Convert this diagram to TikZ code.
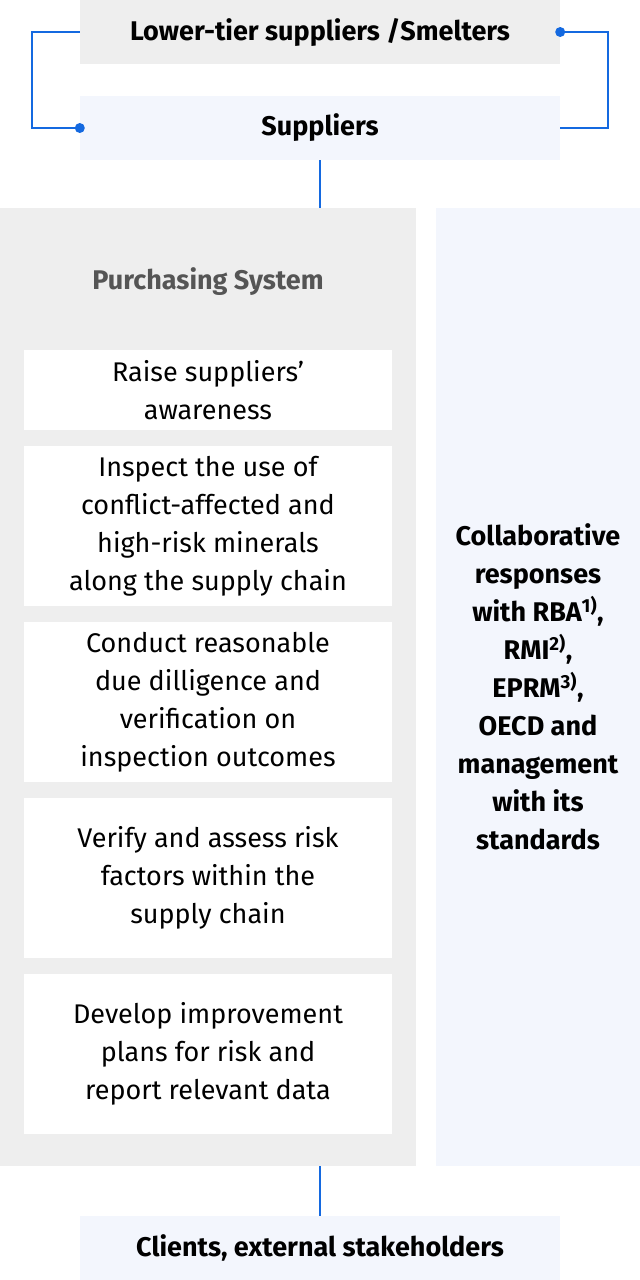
\documentclass[tikz,border=0pt]{standalone}
\usepackage{fontspec}
\setmainfont{Fira Sans}
\usepackage{tikz}
\usetikzlibrary{positioning,calc}
\usepackage{xcolor}

\definecolor{panelgrey}{HTML}{EEEEEE}
\definecolor{panelblue}{HTML}{F3F6FD}
\definecolor{linkblue}{HTML}{1469E0}
\definecolor{titlegrey}{HTML}{555555}

\tikzset{
    tierbox/.style={minimum width=480pt, minimum height=64pt, inner sep=0pt,
        font=\fontsize{27}{38}\selectfont\bfseries},
    stepbox/.style={fill=white, minimum width=368pt, inner sep=0pt, align=center,
        font=\fontsize{27}{38}\selectfont},
    link/.style={linkblue, line width=2pt},
}

\begin{document}
\begin{tikzpicture}[x=1pt, y=-1pt]
    \useasboundingbox (0,0) rectangle (640,1280);

    % Top: lower tiers and suppliers
    \node[tierbox, fill=panelgrey] (lower) at (320,32) {Lower-tier suppliers /Smelters};
    \node[tierbox, fill=panelblue] (sup) at (320,128) {Suppliers};

    \draw[link] (lower.west) -- ++(-48,0) |- (sup.west);
    \fill[linkblue] (sup.west) circle (5pt);
    \draw[link] (lower.east) -- ++(48,0) |- (sup.east);
    \fill[linkblue] (lower.east) circle (5pt);

    % Purchasing system panel
    \node[fill=panelgrey, minimum width=416pt, minimum height=958pt, inner sep=0pt]
        (purch) at (208,687) {};
    \node[font=\fontsize{27}{38}\selectfont\bfseries, text=titlegrey]
        (ptitle) at (208,282) {Purchasing System};

    \draw[link] (sup.south) -- (sup.south |- purch.north);

    % Steps
    \node[stepbox, minimum height=80pt] (s1) at (208,390)
        {Raise suppliers’\\awareness};
    \node[stepbox, minimum height=160pt] (s2) at (208,526)
        {Inspect the use of\\conflict-affected and\\high-risk minerals\\along the supply chain};
    \node[stepbox, minimum height=160pt] (s3) at (208,702)
        {Conduct reasonable\\due dilligence and\\verification on\\inspection outcomes};
    \node[stepbox, minimum height=160pt] (s4) at (208,878)
        {Verify and assess risk\\factors within the\\supply chain};
    \node[stepbox, minimum height=160pt] (s5) at (208,1054)
        {Develop improvement\\plans for risk and\\report relevant data};

    % Collaboration panel
    \node[fill=panelblue, minimum width=204pt, minimum height=958pt, inner sep=0pt,
        align=center, font=\fontsize{27}{38}\selectfont\bfseries] (collab) at (538,687)
        {Collaborative\\responses\\with RBA\textsuperscript{1)},\\RMI\textsuperscript{2)},\\EPRM\textsuperscript{3)},\\OECD and\\management\\with its\\standards};

    % Bottom: clients
    \node[tierbox, fill=panelblue] (clients) at (320,1248) {Clients, external stakeholders};
    \draw[link] (clients.north |- purch.south) -- (clients.north);
\end{tikzpicture}
\end{document}
